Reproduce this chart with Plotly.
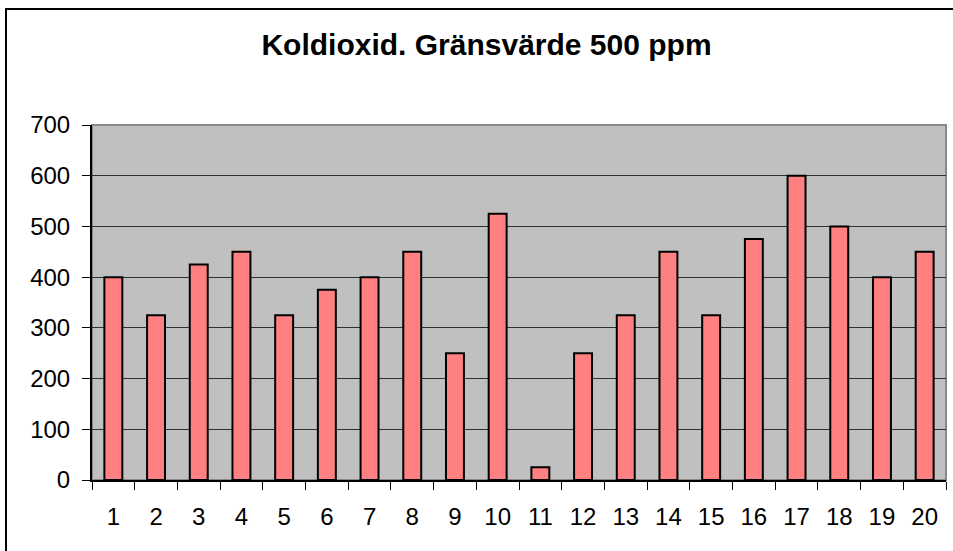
import plotly.graph_objects as go

categories = [str(i) for i in range(1, 21)]
values = [400, 325, 425, 450, 325, 375, 400, 450, 250, 525,
          25, 250, 325, 450, 325, 475, 600, 500, 400, 450]
title_text = "Koldioxid. Gränsvärde 500 ppm"
y_ticks = [0, 100, 200, 300, 400, 500, 600, 700]

W, H = 953, 551
ML, MR, MT, MB = 92, 7, 125, 71
PW = W - ML - MR
PH = H - MT - MB

def px_x(p):
    return (p - ML) / PW

def px_y(p):
    return (H - MB - p) / PH

FONT = "Liberation Sans, Arial, sans-serif"

fig = go.Figure(go.Bar(
    x=categories, y=values,
    marker=dict(color="#FF8080", line=dict(color="black", width=2)),
))

fig.update_layout(
    width=W, height=H,
    margin=dict(l=ML, r=MR, t=MT, b=MB),
    paper_bgcolor="white",
    plot_bgcolor="#C0C0C0",
    bargap=0.58,
    showlegend=False,
    font=dict(family=FONT, size=24, color="black"),
    title=dict(text="<b>" + title_text + "</b>", x=486.5 / W, xanchor="center",
               y=1 - 44 / H, yanchor="middle",
               font=dict(family=FONT, size=30, color="black")),
)

fig.update_xaxes(
    type="category", tickson="boundaries", ticks="outside", ticklen=8,
    tickcolor="black", tickwidth=1, showline=True, linecolor="black", linewidth=2,
    showgrid=False, tickfont=dict(size=24), ticklabelstandoff=14,
)
fig.update_yaxes(
    range=[0, 700], tickvals=y_ticks, ticks="outside", ticklen=8,
    tickcolor="black", tickwidth=1, showline=True, linecolor="black", linewidth=2,
    showgrid=True, gridcolor="#303030", gridwidth=1, zeroline=False,
    tickfont=dict(size=24), ticklabelstandoff=7,
)

# plot area border (gray top/right)
fig.add_shape(type="rect", xref="paper", yref="paper", x0=0, x1=1, y0=0, y1=1,
              line=dict(color="#888888", width=2), layer="below")
# outer chart border
fig.add_shape(type="rect", xref="paper", yref="paper",
              x0=px_x(6), x1=px_x(965), y0=px_y(565), y1=px_y(9),
              line=dict(color="black", width=2))

fig.write_html("out.html", config={"displayModeBar": False},
               post_script="document.body.style.margin='0';document.body.style.overflow='hidden';")
